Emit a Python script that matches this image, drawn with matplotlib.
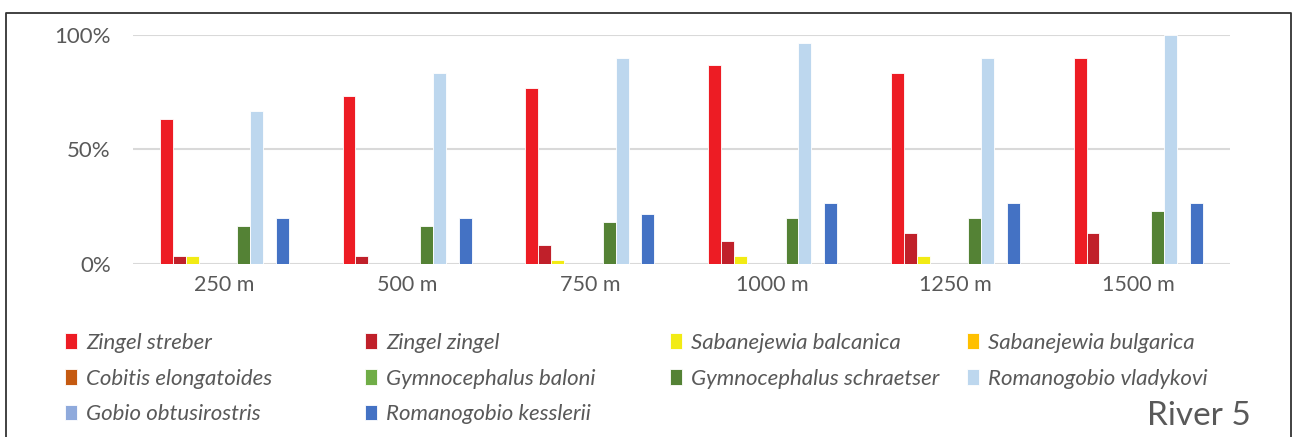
import matplotlib
matplotlib.use("Agg")
import matplotlib.pyplot as plt
from matplotlib.patches import Patch
from matplotlib.lines import Line2D
import numpy as np

plt.rcParams['font.family'] = ['Lato', 'DejaVu Sans']

# distance classes
categories = ['250 m', '500 m', '750 m', '1000 m', '1250 m', '1500 m']

# species names and colours (legend order)
species = ['Zingel streber', 'Zingel zingel', 'Sabanejewia balcanica', 'Sabanejewia bulgarica',
           'Cobitis elongatoides', 'Gymnocephalus baloni', 'Gymnocephalus schraetser',
           'Romanogobio vladykovi', 'Gobio obtusirostris', 'Romanogobio kesslerii']
colors = ['#ED1C24', '#C0202A', '#F2EB14', '#FFC000', '#C55A11',
          '#70AD47', '#548235', '#BDD7EE', '#8FAADC', '#4472C4']

# occurrence (%) per species, per distance
zingel_streber = [63.3, 73.3, 76.7, 86.7, 83.3, 90.0]
zingel_zingel = [3.3, 3.3, 8.3, 10.0, 13.3, 13.3]
sabanejewia_balcanica = [3.3, 0, 1.7, 3.3, 3.3, 0]
sabanejewia_bulgarica = [0, 0, 0, 0, 0, 0]
cobitis_elongatoides = [0, 0, 0, 0, 0, 0]
gymnocephalus_baloni = [0, 0, 0, 0, 0, 0]
gymnocephalus_schraetser = [16.7, 16.7, 18.3, 20.0, 20.0, 23.3]
romanogobio_vladykovi = [66.7, 83.3, 90.0, 96.7, 90.0, 100.0]
gobio_obtusirostris = [0, 0, 0, 0, 0, 0]
romanogobio_kesslerii = [20.0, 20.0, 21.7, 26.7, 26.7, 26.7]

values = [zingel_streber, zingel_zingel, sabanejewia_balcanica, sabanejewia_bulgarica,
          cobitis_elongatoides, gymnocephalus_baloni, gymnocephalus_schraetser,
          romanogobio_vladykovi, gobio_obtusirostris, romanogobio_kesslerii]

fig = plt.figure(figsize=(12.97, 4.37), dpi=100)
ax = fig.add_axes([0.1025, 0.396, 0.8455, 0.524])

x = np.arange(len(categories))
w = 0.0706
for i, (name, vals, c) in enumerate(zip(species, values, colors)):
    ax.bar(x + (i - 4.5) * w, np.array(vals) / 100, w, color=c, edgecolor='white',
           linewidth=0.6, label=name, zorder=3)

ax.set_xlim(-0.5, len(categories) - 0.5)
ax.set_ylim(0, 1)
ax.set_yticks([0, 0.5, 1])
ax.set_yticklabels(['0%', '50%', '100%'])
ax.set_xticks(x)
ax.set_xticklabels(categories)
ax.tick_params(length=0, labelsize=15.5, colors='#595959')
ax.tick_params(axis='x', pad=8)
ax.tick_params(axis='y', labelsize=16, pad=16)
ax.grid(axis='y', color='#d9d9d9', linewidth=1.5, zorder=0)
for s in ax.spines.values():
    s.set_visible(False)

# legend: four columns of equal width, filled row by row
col_x = [0.0500, 0.2815, 0.5165, 0.7455]
for col in range(4):
    idx = list(range(col, len(species), 4))
    handles = [Patch(facecolor=colors[k], edgecolor='white', linewidth=0.6) for k in idx]
    leg = fig.legend(handles, [species[k] for k in idx], loc='upper left',
                     bbox_to_anchor=(col_x[col], 0.238), frameon=False,
                     prop={'style': 'italic', 'size': 16}, handlelength=0.55,
                     handleheight=0.7, handletextpad=0.4, labelspacing=0.70,
                     borderpad=0, borderaxespad=0)
    for t in leg.get_texts():
        t.set_color('#595959')

fig.text(0.964, 0.048, 'River 5', ha='right', va='center', fontsize=24, color='#595959')

# chart frame (open at the bottom)
fig.add_artist(Line2D([0.0046, 0.0046, 0.9954, 0.9954], [0.0, 0.970, 0.970, 0.0],
                      color='#333333', linewidth=1.3, transform=fig.transFigure))

fig.savefig('out.png', dpi=100)
